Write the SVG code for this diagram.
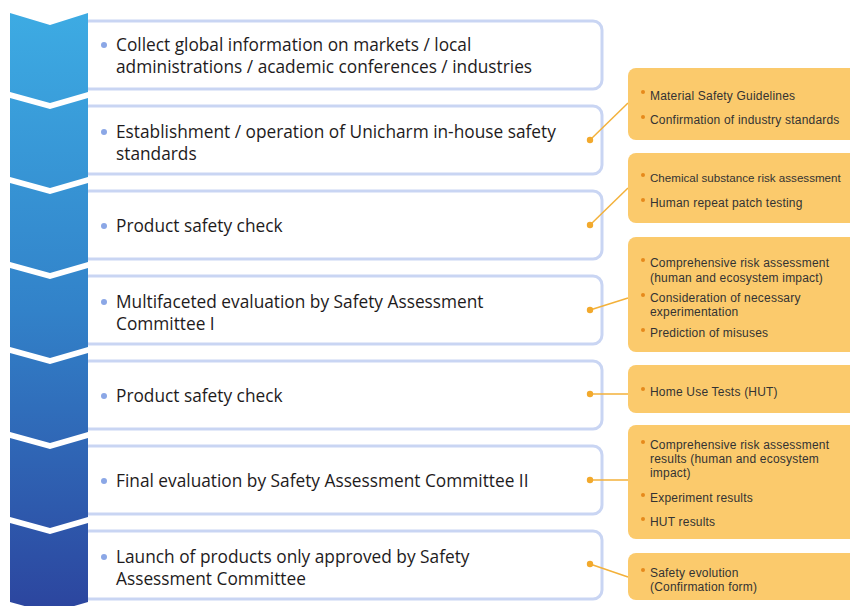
<svg xmlns="http://www.w3.org/2000/svg" width="850" height="606" viewBox="0 0 850 606">
<defs>
<linearGradient id="blue" gradientUnits="userSpaceOnUse" x1="0" y1="13" x2="0" y2="606">
<stop offset="0" stop-color="#3dabe3"/>
<stop offset="0.5" stop-color="#3282c9"/>
<stop offset="1" stop-color="#2c469f"/>
</linearGradient>
<style>
.seg{fill:url(#blue);}
.box{fill:#ffffff;stroke:#c9d5f3;stroke-width:3;}
.main{font-family:"Open Sans","Liberation Sans",sans-serif;font-size:17.3px;fill:#1e1b1c;}
.bdot{fill:#8ba7e6;}
.obox{fill:#fbca6c;}
.otxt{font-family:"Liberation Sans",Arial,sans-serif;font-size:12px;letter-spacing:0.2px;fill:#333333;}
.tight{font-size:11.6px;letter-spacing:0px;}
.odot{fill:#e6891c;}
.conn{stroke:#f3b13a;stroke-width:1.5;fill:none;}
.cdot{fill:#f2a92c;}
</style>
</defs>
<rect width="850" height="606" fill="#ffffff"/>

<g id="step1">
<rect class="box" x="80" y="21" width="522" height="68" rx="9"/>
<path class="seg" d="M10,13 L50,25 L88,13 L88,92 L50,103 L10,92 Z"/>
<circle class="bdot" cx="104" cy="45" r="3"/>
<text class="main" x="116" y="51">Collect global information on markets / local</text>
<text class="main" x="116" y="73">administrations / academic conferences / industries</text>
</g>

<g id="step2">
<rect class="box" x="80" y="106" width="522" height="68" rx="9"/>
<path class="seg" d="M10,98 L50,109 L88,98 L88,177 L50,188 L10,177 Z"/>
<circle class="bdot" cx="104" cy="132" r="3"/>
<text class="main" x="116" y="138">Establishment / operation of Unicharm in-house safety</text>
<text class="main" x="116" y="160">standards</text>
</g>

<g id="step3">
<rect class="box" x="80" y="191" width="522" height="68" rx="9"/>
<path class="seg" d="M10,183 L50,194 L88,183 L88,262 L50,273 L10,262 Z"/>
<circle class="bdot" cx="104" cy="226" r="3"/>
<text class="main" x="116" y="232">Product safety check</text>
</g>

<g id="step4">
<rect class="box" x="80" y="276" width="522" height="68" rx="9"/>
<path class="seg" d="M10,268 L50,279 L88,268 L88,347 L50,358 L10,347 Z"/>
<circle class="bdot" cx="104" cy="302" r="3"/>
<text class="main" x="116" y="308">Multifaceted evaluation by Safety Assessment</text>
<text class="main" x="116" y="330">Committee I</text>
</g>

<g id="step5">
<rect class="box" x="80" y="361" width="522" height="68" rx="9"/>
<path class="seg" d="M10,353 L50,364 L88,353 L88,432 L50,443 L10,432 Z"/>
<circle class="bdot" cx="104" cy="396" r="3"/>
<text class="main" x="116" y="402">Product safety check</text>
</g>

<g id="step6">
<rect class="box" x="80" y="446" width="522" height="68" rx="9"/>
<path class="seg" d="M10,438 L50,449 L88,438 L88,517 L50,528 L10,517 Z"/>
<circle class="bdot" cx="104" cy="481" r="3"/>
<text class="main" x="116" y="487">Final evaluation by Safety Assessment Committee II</text>
</g>

<g id="step7">
<rect class="box" x="80" y="531" width="522" height="68" rx="9"/>
<path class="seg" d="M10,523 L50,534 L88,523 L88,602 L50,613 L10,602 Z"/>
<circle class="bdot" cx="104" cy="557" r="3"/>
<text class="main" x="116" y="563">Launch of products only approved by Safety</text>
<text class="main" x="116" y="585">Assessment Committee</text>
</g>

<g id="connectors">
<line class="conn" x1="590" y1="140" x2="628" y2="103"/>
<line class="conn" x1="590" y1="225" x2="628" y2="188"/>
<line class="conn" x1="590" y1="310" x2="628" y2="298"/>
<line class="conn" x1="590" y1="394" x2="628" y2="394"/>
<line class="conn" x1="590" y1="480" x2="628" y2="480"/>
<line class="conn" x1="590" y1="564" x2="628" y2="577"/>
<circle class="cdot" cx="590" cy="140" r="3.2"/>
<circle class="cdot" cx="590" cy="225" r="3.2"/>
<circle class="cdot" cx="590" cy="310" r="3.2"/>
<circle class="cdot" cx="590" cy="394" r="3.2"/>
<circle class="cdot" cx="590" cy="480" r="3.2"/>
<circle class="cdot" cx="590" cy="564" r="3.2"/>
</g>

<g id="note1">
<rect class="obox" x="628" y="68" width="240" height="72" rx="8"/>
<circle class="odot" cx="643" cy="92" r="2"/>
<text class="otxt" x="650" y="100">Material Safety Guidelines</text>
<circle class="odot" cx="643" cy="117" r="2"/>
<text class="otxt" x="650" y="124">Confirmation of industry standards</text>
</g>

<g id="note2">
<rect class="obox" x="628" y="153" width="240" height="70" rx="8"/>
<circle class="odot" cx="643" cy="175" r="2"/>
<text class="otxt tight" x="650" y="182">Chemical substance risk assessment</text>
<circle class="odot" cx="643" cy="200" r="2"/>
<text class="otxt" x="650" y="207">Human repeat patch testing</text>
</g>

<g id="note3">
<rect class="obox" x="628" y="237" width="240" height="115" rx="8"/>
<circle class="odot" cx="643" cy="260" r="2"/>
<text class="otxt" x="650" y="267">Comprehensive risk assessment</text>
<text class="otxt" x="650" y="282">(human and ecosystem impact)</text>
<circle class="odot" cx="643" cy="295" r="2"/>
<text class="otxt" x="650" y="302">Consideration of necessary</text>
<text class="otxt" x="650" y="316">experimentation</text>
<circle class="odot" cx="643" cy="330" r="2"/>
<text class="otxt" x="650" y="337">Prediction of misuses</text>
</g>

<g id="note4">
<rect class="obox" x="628" y="365" width="240" height="48" rx="8"/>
<circle class="odot" cx="643" cy="389" r="2"/>
<text class="otxt" x="650" y="396">Home Use Tests (HUT)</text>
</g>

<g id="note5">
<rect class="obox" x="628" y="425" width="240" height="114" rx="8"/>
<circle class="odot" cx="643" cy="442" r="2"/>
<text class="otxt" x="650" y="449">Comprehensive risk assessment</text>
<text class="otxt" x="650" y="463">results (human and ecosystem</text>
<text class="otxt" x="650" y="477">impact)</text>
<circle class="odot" cx="643" cy="495" r="2"/>
<text class="otxt" x="650" y="502">Experiment results</text>
<circle class="odot" cx="643" cy="519" r="2"/>
<text class="otxt" x="650" y="526">HUT results</text>
</g>

<g id="note6">
<rect class="obox" x="628" y="553" width="240" height="47" rx="8"/>
<circle class="odot" cx="643" cy="570" r="2"/>
<text class="otxt" x="650" y="577">Safety evolution</text>
<text class="otxt" x="650" y="591">(Confirmation form)</text>
</g>
</svg>
